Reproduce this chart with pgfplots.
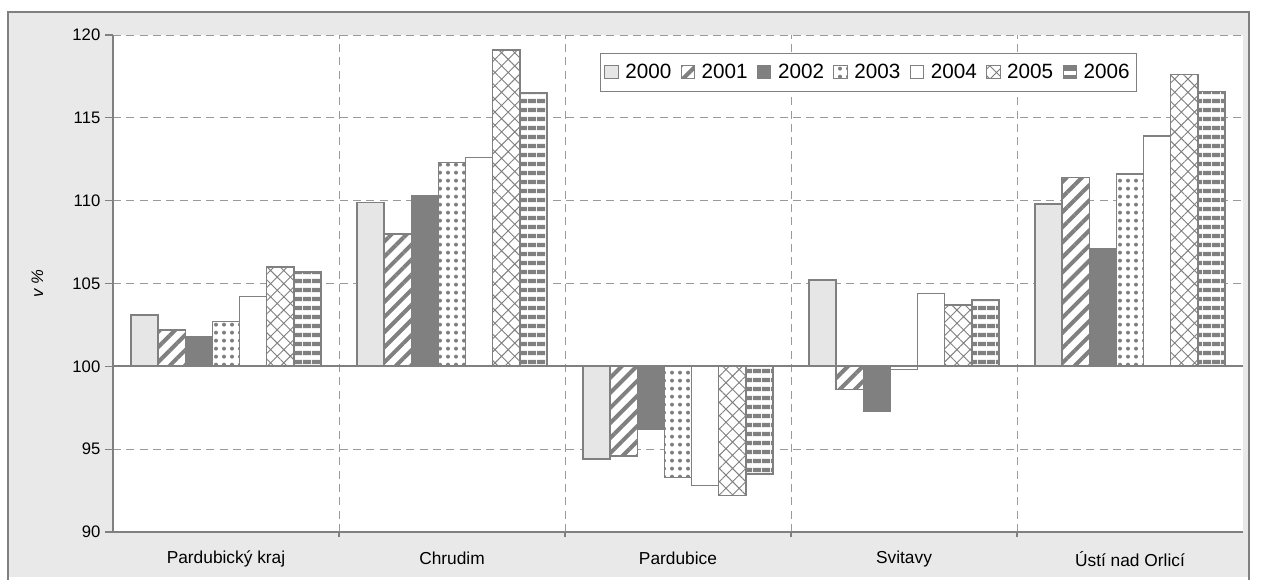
\documentclass[border=0pt]{standalone}
\usepackage{fontspec}
\setmainfont{Liberation Sans}
\usepackage{pgfplots}
\usepackage{pgfplotstable}
\pgfplotsset{compat=1.18}
\usetikzlibrary{patterns.meta}

\definecolor{bg}{HTML}{E9E9E9}
\definecolor{edge}{HTML}{808080}
\definecolor{light}{HTML}{E6E6E6}

% indices, bars grow from 100
\pgfplotstableread{
x  a2000 a2001 a2002 a2003 a2004 a2005 a2006
1  103.1 102.2 101.8 102.7 104.2 106.0 105.7
2  109.9 108.0 110.3 112.3 112.6 119.1 116.5
3  94.4  94.6  96.2  93.3  92.8  92.2  93.5
4  105.2 98.6  97.3  99.8  104.4 103.7 104.0
5  109.8 111.4 107.1 111.6 113.9 117.6 116.6
}\datatable

\begin{document}
\begin{tikzpicture}
% page size 1261x577 px, 1px = 0.75pt
\path (0,0) rectangle (945.75pt,432.75pt);
\fill[bg] (6pt,0pt) rectangle (936.75pt,423.75pt);
\draw[edge, line width=1.5pt] (6pt,-2pt) -- (6pt,423.75pt) -- (936.75pt,423.75pt) -- (936.75pt,-2pt);

\begin{axis}[
  at={(84.75pt,33.75pt)}, anchor=south west,
  scale only axis,
  width=847.5pt, height=372.75pt,
  axis background/.style={fill=white},
  font=\fontsize{12.5}{14}\selectfont,
  /pgf/number format/assume math mode=true,
  ybar=0pt, bar width=0.12,
  xmin=0.5, xmax=5.5,
  ymin=-10, ymax=20,
  ytick={-10,-5,...,20},
  yticklabels={90,95,100,105,110,115,120},
  xtick={1,2,3,4,5},
  xticklabels={Pardubický kraj,Chrudim,Pardubice,Svitavy,Ústí nad Orlicí},
  minor xtick={1.5,2.5,3.5,4.5},
  xminorgrids, ymajorgrids,
  grid style={edge!80, dash pattern=on 6pt off 4pt, line width=0.6pt},
  minor grid style={edge!80, dash pattern=on 6pt off 4pt, line width=0.6pt},
  axis x line*=bottom, axis y line*=left,
  axis line style={edge, line width=1.5pt, -},
  major x tick style={draw=none},
  minor x tick style={edge, line width=0.8pt},
  major y tick style={edge, line width=0.8pt},
  tick align=outside, major tick length=6pt, minor tick length=4pt,
  xticklabel style={anchor=center, yshift=-14pt, font=\fontsize{13}{15}\selectfont},
  ylabel={\textit{v \%}},
  every axis y label/.style={at={(axis description cs:-0.067,0.5)}, rotate=90, anchor=center},
  legend columns=7,
  legend style={at={(0.431,0.964)}, anchor=north west, draw=edge, fill=white,
    font=\fontsize{15.5}{17}\selectfont, inner xsep=3pt, inner ysep=6pt,
    /tikz/every odd column/.append style={column sep=3pt},
    /tikz/every even column/.append style={column sep=5pt}},
  legend image code/.code={\draw[#1, line width=0.8pt] (0pt,-5pt) rectangle (10pt,5pt);},
  every axis plot/.append style={draw=edge, line width=1.1pt},
]
\addplot[fill=light] table[x=x, y expr=\thisrow{a2000}-100] {\datatable};
\addlegendentry{2000}
\addplot[fill=white, postaction={pattern={Lines[angle=45, distance=8pt, line width=3pt]}, pattern color=edge}]
  table[x=x, y expr=\thisrow{a2001}-100] {\datatable};
\addlegendentry{2001}
\addplot[fill=edge] table[x=x, y expr=\thisrow{a2002}-100] {\datatable};
\addlegendentry{2002}
\addplot[fill=white, postaction={pattern={Dots[distance=6pt, radius=1.5pt]}, pattern color=edge}]
  table[x=x, y expr=\thisrow{a2003}-100] {\datatable};
\addlegendentry{2003}
\addplot[fill=white] table[x=x, y expr=\thisrow{a2004}-100] {\datatable};
\addlegendentry{2004}
\addplot[fill=white, postaction={pattern={Hatch[angle=45, distance=7pt, line width=0.7pt]}, pattern color=edge}]
  table[x=x, y expr=\thisrow{a2005}-100] {\datatable};
\addlegendentry{2005}
\addplot[fill=white, postaction={pattern={Lines[angle=0, distance=6.4pt, line width=3.4pt]}, pattern color=edge}]
  table[x=x, y expr=\thisrow{a2006}-100] {\datatable};
\addlegendentry{2006}
\draw[edge, line width=1.5pt] (axis cs:0.5,0) -- (axis cs:5.5,0);
\end{axis}
\end{tikzpicture}
\end{document}
